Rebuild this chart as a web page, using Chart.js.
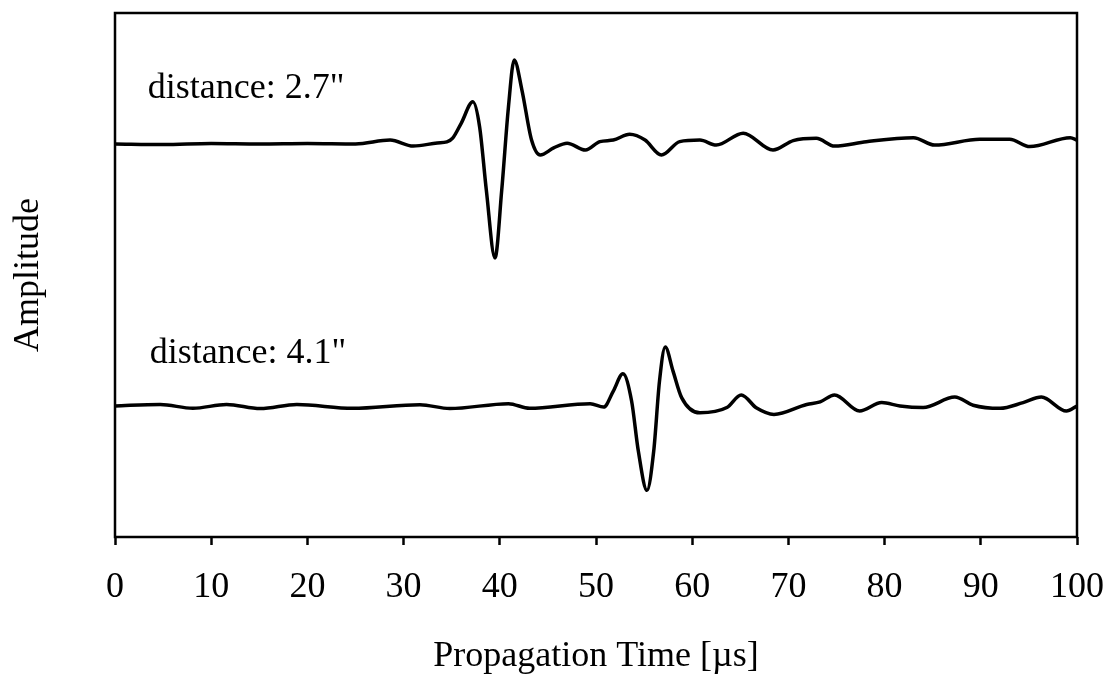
<!DOCTYPE html>
<html>
<head>
<meta charset="utf-8">
<script src="https://cdn.jsdelivr.net/npm/chart.js@4/dist/chart.umd.min.js"></script>
<style>
  html, body { margin: 0; padding: 0; background: #fff; }
  #wrap { width: 1118px; height: 678px; }
</style>
</head>
<body>
<div id="wrap"><canvas id="c" width="1118" height="678"></canvas></div>
<script>
// ---- Data ----
const xTicks = [0, 10, 20, 30, 40, 50, 60, 70, 80, 90, 100];

// Trace 1 (distance 2.7")
const time1 = [0, 5, 10, 15, 20, 25, 28.6, 31, 33.5, 34.5, 35.1, 36.0, 37.2, 37.9, 38.6, 39.5, 40.2, 40.9, 41.5, 42.3, 43.3, 44.2, 45.6, 47.0, 48.9, 50.4, 51.8, 53.5, 55.1, 56.8, 58.7, 60.8, 62.5, 65.3, 68.4, 70.5, 72.9, 74.8, 78.1, 83.0, 85.2, 89.9, 93.0, 95.1, 99.3, 100];
const amp1  = [0, -0.002, 0.002, 0, 0.002, 0, 0.015, -0.008, 0.004, 0.008, 0.022, 0.080, 0.161, 0.066, -0.176, -0.435, -0.176, 0.142, 0.321, 0.206, 0.015, -0.042, -0.015, 0.003, -0.023, 0.009, 0.015, 0.037, 0.015, -0.042, 0.009, 0.015, -0.004, 0.041, -0.023, 0.013, 0.022, -0.008, 0.009, 0.024, -0.004, 0.018, 0.018, -0.010, 0.024, 0.015];

// Trace 2 (distance 4.1")
const time2 = [0, 4.7, 8.1, 11.6, 15.1, 18.9, 24.7, 31.7, 34.8, 40.9, 43.1, 49.4, 50.8, 51.8, 52.8, 53.7, 54.4, 55.3, 56.0, 56.6, 57.2, 58.0, 58.9, 60.8, 63.6, 65.1, 66.7, 68.5, 71.9, 73.3, 74.8, 77.4, 79.7, 81.6, 84.0, 87.3, 89.2, 92.0, 94.4, 96.3, 98.9, 100];
const amp2  = [0, 0.006, -0.009, 0.006, -0.010, 0.006, -0.009, 0.005, -0.010, 0.009, -0.009, 0.009, -0.004, 0.057, 0.123, 0.019, -0.172, -0.322, -0.172, 0.095, 0.225, 0.134, 0.032, -0.026, -0.006, 0.042, -0.008, -0.032, 0.006, 0.016, 0.042, -0.019, 0.013, 0, -0.006, 0.034, 0.003, -0.009, 0.013, 0.034, -0.019, 0];

const labels = ['distance: 2.7"', 'distance: 4.1"'];

// ---- Build chart ----
const OFFSET1 = 1, OFFSET2 = 0;   // vertical stacking of the two traces
const toPts = (t, a, off) => t.map((x, i) => ({ x: x, y: a[i] + off }));

const FONT = '"Liberation Serif", "Times New Roman", serif';

const framePlugin = {
  id: 'frame',
  afterDatasetsDraw(chart) {
    const { ctx, chartArea: a, scales } = chart;
    ctx.save();
    ctx.strokeStyle = '#000';
    ctx.lineWidth = 2.5;
    ctx.strokeRect(a.left, a.top, a.right - a.left, a.bottom - a.top);
    // trace labels
    ctx.fillStyle = '#000';
    ctx.font = '36px ' + FONT;
    ctx.textBaseline = 'alphabetic';
    ctx.textAlign = 'left';
    ctx.fillText(labels[0], scales.x.getPixelForValue(3.4), scales.y.getPixelForValue(OFFSET1 + 0.176));
    ctx.fillText(labels[1], scales.x.getPixelForValue(3.6), scales.y.getPixelForValue(OFFSET2 + 0.164));
    ctx.restore();
  }
};

new Chart(document.getElementById('c'), {
  type: 'line',
  data: {
    datasets: [
      { data: toPts(time1, amp1, OFFSET1), borderColor: '#000', borderWidth: 3.5, pointRadius: 0, cubicInterpolationMode: 'monotone', fill: false },
      { data: toPts(time2, amp2, OFFSET2), borderColor: '#000', borderWidth: 3.5, pointRadius: 0, cubicInterpolationMode: 'monotone', fill: false }
    ]
  },
  options: {
    responsive: false,
    animation: false,
    devicePixelRatio: 1,
    layout: { padding: { left: 0, right: 41, top: 13, bottom: 0 } },
    plugins: { legend: { display: false }, tooltip: { enabled: false } },
    scales: {
      x: {
        type: 'linear',
        min: 0, max: 100,
        afterBuildTicks: (s) => { s.ticks = xTicks.map(v => ({ value: v })); },
        afterFit: (s) => { s.height = 141; s.paddingLeft = 0; s.paddingRight = 0; },
        grid: { display: true, drawOnChartArea: false, drawTicks: true, tickLength: 8, tickWidth: 2.5, tickColor: '#000' },
        border: { display: false },
        ticks: { color: '#000', padding: 21, maxRotation: 0, autoSkip: false, font: { family: FONT, size: 36 } },
        title: { display: true, text: 'Propagation Time [µs]', color: '#000', padding: { top: 0, bottom: 0 }, font: { family: FONT, size: 36 } }
      },
      y: {
        min: -0.5, max: 1.5,
        afterFit: (s) => { s.width = 115; s.paddingTop = 0; s.paddingBottom = 0; },
        grid: { display: false },
        border: { display: false },
        ticks: { display: false },
        title: { display: true, text: 'Amplitude', color: '#000', padding: { top: 7, bottom: 0 }, font: { family: FONT, size: 36 } }
      }
    }
  },
  plugins: [framePlugin]
});
</script>
</body>
</html>
